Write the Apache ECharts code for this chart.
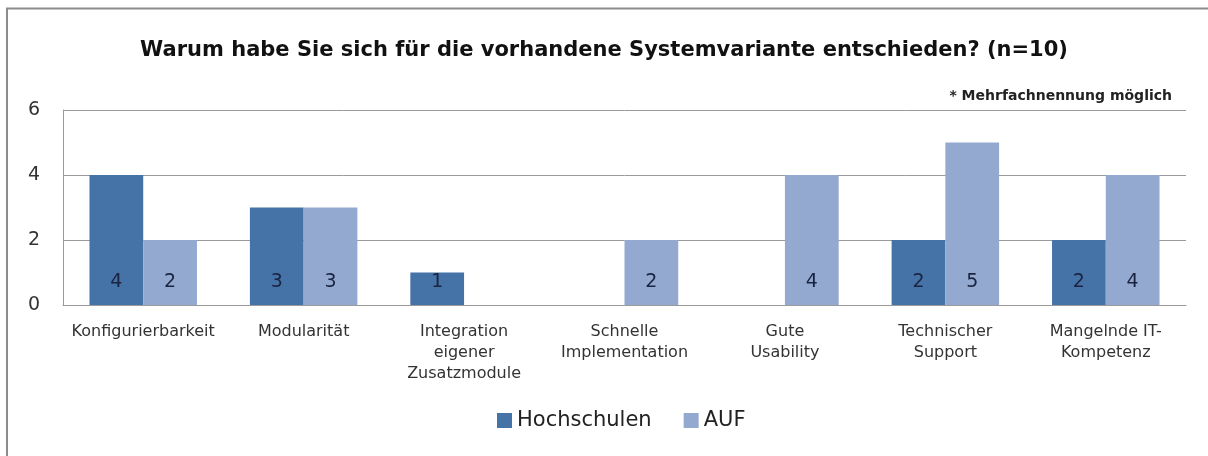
<!DOCTYPE html>
<html>
<head>
<meta charset="utf-8">
<script src="https://cdn.jsdelivr.net/npm/echarts@6/dist/echarts.min.js"></script>
<style>
  html, body { margin: 0; padding: 0; background: #fff; }
  #chart { width: 1208px; height: 456px; }
</style>
</head>
<body>
<div id="chart"></div>
<script>
let categories = [
    'Konfigurierbarkeit',
    'Modularität',
    'Integration\neigener\nZusatzmodule',
    'Schnelle\nImplementation',
    'Gute\nUsability',
    'Technischer\nSupport',
    'Mangelnde IT-\nKompetenz'
];
let hochschulen = [4, 3, 1, 0, 0, 2, 2];
let auf = [2, 3, 0, 2, 4, 5, 4];
let yTicks = [0, 2, 4, 6];

let font = '"DejaVu Sans", sans-serif';

let barLabel = {
    show: true,
    position: 'insideBottom',
    distance: 13,
    color: '#1a2340',
    fontFamily: font,
    fontSize: 19,
    // empty bars get no label
    formatter: p => p.value ? p.value : ''
};

let option = {
    animation: false,
    title: {
        left: 'center',
        top: 35,
        text: 'Warum habe Sie sich für die vorhandene Systemvariante entschieden? (n=10)',
        textStyle: {
            fontFamily: font,
            fontSize: 21,
            fontWeight: 'bold',
            color: '#111'
        }
    },
    graphic: [
        {
            type: 'polyline',
            shape: { points: [[7, 460], [7, 8.5], [1210, 8.5]] },
            style: { stroke: '#8c8c8c', lineWidth: 2, fill: null }
        },
        {
            type: 'text',
            right: 36,
            top: 89,
            style: {
                text: '* Mehrfachnennung möglich',
                font: 'bold 14px "DejaVu Sans", sans-serif',
                fill: '#222'
            }
        }
    ],
    legend: {
        bottom: 20,
        left: 492,
        itemWidth: 15,
        itemHeight: 15,
        itemGap: 32,
        icon: 'rect',
        textStyle: { fontFamily: font, fontSize: 21, color: '#222' },
        data: ['Hochschulen', 'AUF']
    },
    grid: {
        left: 63,
        right: 22,
        top: 110,
        bottom: 151
    },
    xAxis: {
        type: 'category',
        data: categories,
        axisTick: { show: false },
        axisLine: { lineStyle: { color: '#9a9a9a', width: 1 } },
        axisLabel: {
            interval: 0,
            margin: 16,
            lineHeight: 21,
            fontFamily: font,
            fontSize: 16,
            color: '#333'
        }
    },
    yAxis: {
        type: 'value',
        min: 0,
        max: 6,
        interval: 2,
        axisLine: { show: true, lineStyle: { color: '#9a9a9a' } },
        axisTick: { show: false },
        splitLine: { lineStyle: { color: '#9a9a9a' } },
        axisLabel: {
            margin: 23,
            fontFamily: font,
            fontSize: 19,
            color: '#333',
            formatter: v => yTicks.includes(v) ? String(v) : ''
        }
    },
    series: [
        {
            name: 'Hochschulen',
            type: 'bar',
            barGap: '0%',
            barCategoryGap: '33%',
            itemStyle: { color: '#4572a7' },
            label: barLabel,
            data: hochschulen
        },
        {
            name: 'AUF',
            type: 'bar',
            itemStyle: { color: '#93a9d0' },
            label: barLabel,
            data: auf
        }
    ]
};

let myChart = echarts.init(document.getElementById('chart'));
myChart.setOption(option);
</script>
</body>
</html>
